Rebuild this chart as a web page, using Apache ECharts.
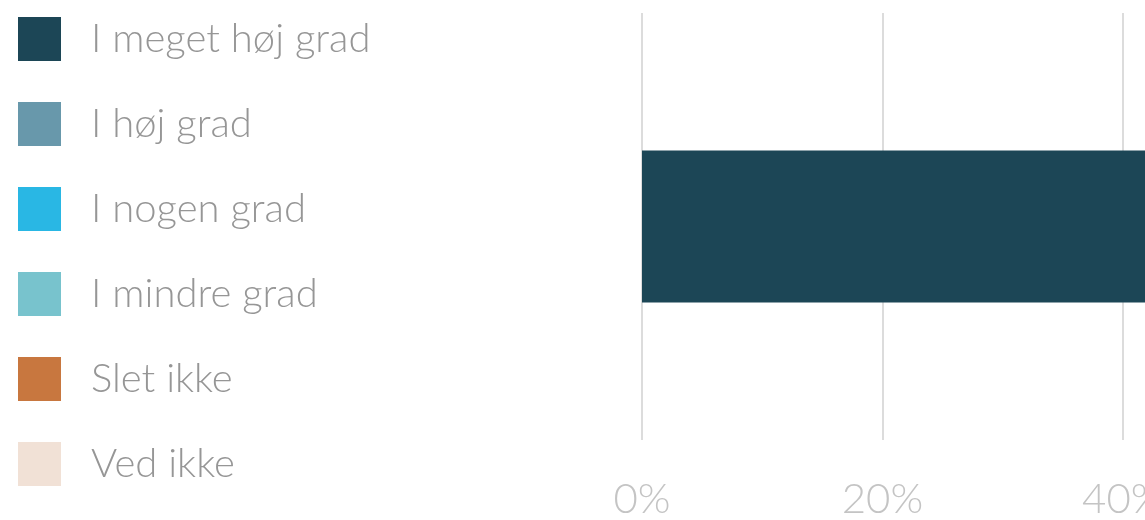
<!DOCTYPE html>
<html>
<head>
<meta charset="utf-8">
<script src="https://cdn.jsdelivr.net/npm/echarts@6/dist/echarts.min.js"></script>
<style>
  html, body { margin: 0; padding: 0; background: #fff; overflow: hidden; }
  /* diagrammet er bredere end vinduet: kun venstre del er synlig */
  #chart { width: 1900px; height: 520px; }
</style>
</head>
<body>
<div id="chart"></div>
<script>
// svarkategorier og farver
const categories = ["Andel"]
const seriesNames = ["I meget høj grad", "I høj grad", "I nogen grad", "I mindre grad", "Slet ikke", "Ved ikke"]
const seriesColors = ["#1c4656", "#6898ab", "#29b7e4", "#78c3cd", "#c8773f", "#f1e1d6"]
// kun første segment er synligt i udsnittet; resten er skøn
const seriesValues = [48, 34, 12, 4, 1, 1]
const tickLabels = ["0%", "20%", "40%", "60%", "80%", "100%"]

const chart = echarts.init(document.getElementById("chart"))

const series = seriesNames.map((name, i) => ({
  name,
  type: "bar",
  stack: "total",
  barWidth: 152,
  itemStyle: { color: seriesColors[i] },
  data: categories.map(() => seriesValues[i])
}))

chart.setOption({
  animation: false,
  legend: {
    orient: "vertical",
    left: 13,
    top: 12,
    icon: "rect",
    itemWidth: 43,
    itemHeight: 44,
    itemGap: 41,
    textStyle: {
      fontFamily: "Lato",
      fontWeight: 300,
      fontSize: 40,
      color: "#969696",
      padding: [0, 0, 0, 25]
    },
    data: seriesNames
  },
  grid: {
    left: 642,
    top: 13,
    width: 1205,
    height: 432,
    containLabel: false
  },
  xAxis: {
    type: "value",
    min: 0,
    max: 100,
    interval: 20,
    axisLine: { show: false },
    axisTick: { show: false },
    splitLine: { lineStyle: { color: "#dcdcdc", width: 2 } },
    axisLabel: {
      margin: 38,
      fontFamily: "Lato",
      fontWeight: 300,
      fontSize: 42,
      color: "#c4c4c4",
      formatter: v => tickLabels[v / 20]
    }
  },
  yAxis: {
    type: "category",
    data: categories,
    show: false
  },
  series
})

window.addEventListener("resize", () => chart.resize())
</script>
</body>
</html>
